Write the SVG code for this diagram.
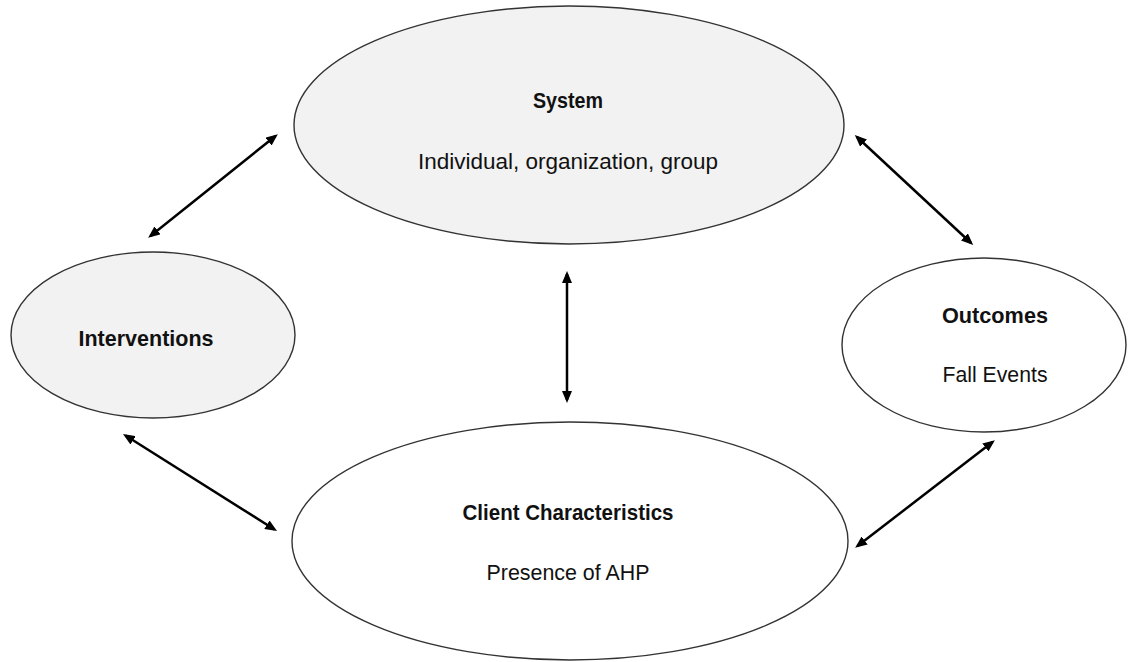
<svg xmlns="http://www.w3.org/2000/svg" width="1130" height="662" viewBox="0 0 1130 662">
  <style>
    .node { stroke: #333333; stroke-width: 1.4; }
    .shaded { fill: #f2f2f2; }
    .plain { fill: #ffffff; }
    text { font-family: "Liberation Sans", Arial, sans-serif; font-size: 22px; fill: #111111; text-anchor: middle; }
    .title { font-weight: bold; }
    .link { stroke: #000000; stroke-width: 2.5; fill: none; marker-start: url(#head); marker-end: url(#head); }
  </style>
  <defs>
    <marker id="head" viewBox="0 0 12 10" refX="9" refY="5" markerWidth="12" markerHeight="10" markerUnits="userSpaceOnUse" orient="auto-start-reverse">
      <path d="M0,0 L12,5 L0,10 z" fill="#000000"/>
    </marker>
  </defs>

  <rect width="1130" height="662" fill="#ffffff"/>

  <!-- two-way links between the four concepts -->
  <g id="connectors">
    <line class="link" x1="275.5" y1="136" x2="150.5" y2="236"/>
    <line class="link" x1="567" y1="274" x2="567" y2="400"/>
    <line class="link" x1="857" y1="137" x2="971" y2="243"/>
    <line class="link" x1="125.5" y1="435.5" x2="274.5" y2="529.5"/>
    <line class="link" x1="992.5" y1="442" x2="857.5" y2="546"/>
  </g>

  <g id="system">
    <ellipse class="node shaded" cx="569" cy="125" rx="275" ry="119"/>
    <text class="title" x="568" y="108" textLength="70" lengthAdjust="spacingAndGlyphs">System</text>
    <text x="568" y="169" textLength="300" lengthAdjust="spacingAndGlyphs">Individual, organization, group</text>
  </g>

  <g id="interventions">
    <ellipse class="node shaded" cx="153" cy="335" rx="142" ry="83"/>
    <text class="title" x="146" y="346" textLength="135" lengthAdjust="spacingAndGlyphs">Interventions</text>
  </g>

  <g id="outcomes">
    <ellipse class="node plain" cx="984" cy="345" rx="142" ry="87"/>
    <text class="title" x="995" y="323" textLength="106" lengthAdjust="spacingAndGlyphs">Outcomes</text>
    <text x="995" y="382" textLength="105" lengthAdjust="spacingAndGlyphs">Fall Events</text>
  </g>

  <g id="client">
    <ellipse class="node plain" cx="570" cy="541" rx="278" ry="119"/>
    <text class="title" x="568" y="520" textLength="211" lengthAdjust="spacingAndGlyphs">Client Characteristics</text>
    <text x="568" y="580" textLength="163" lengthAdjust="spacingAndGlyphs">Presence of AHP</text>
  </g>
</svg>
